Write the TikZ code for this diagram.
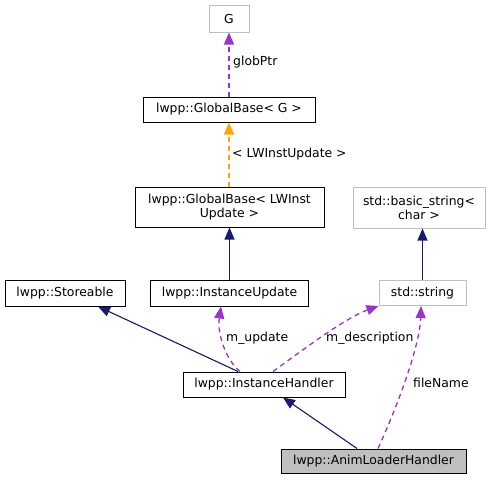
\documentclass[tikz,border=0pt]{standalone}
\usepackage{fontspec}
\setmainfont{DejaVu Sans}
\usetikzlibrary{arrows.meta}
\definecolor{edgenavy}{HTML}{191970}
\definecolor{edgepurple}{HTML}{9A32CD}
\definecolor{edgeorange}{HTML}{FFA500}
\definecolor{boxgray}{HTML}{BFBFBF}
\begin{document}
\begin{tikzpicture}[x=1pt,y=-1pt,
    every node/.style={font=\fontsize{12.4}{14}\selectfont,inner sep=0pt,align=center},
    blackbox/.style={draw=black,line width=1pt,fill=white},
    graybox/.style={draw=boxgray,line width=1pt,fill=white},
    lbl/.style={anchor=west}]
      \useasboundingbox (0,0) rectangle (496,480);
      \draw
        (229,18.5) node[graybox,minimum width=40,minimum height=27] (G){G}
        (229,109.5) node[blackbox,minimum width=172,minimum height=25] (gbG){lwpp::GlobalBase< G >}
        (229.5,207) node[blackbox,minimum width=189,minimum height=40] (gbLW){lwpp::GlobalBase< LWInst\\Update >}
        (419,207.5) node[graybox,minimum width=132,minimum height=41] (bstr){std::basic\_string<\\char >}
        (65,293) node[blackbox,minimum width=120,minimum height=26] (store){lwpp::Storeable}
        (229.5,293) node[blackbox,minimum width=158,minimum height=26] (iupd){lwpp::InstanceUpdate}
        (422.5,293) node[graybox,minimum width=87,minimum height=25] (str){std::string}
        (264,384.5) node[blackbox,minimum width=162,minimum height=25] (ihand){lwpp::InstanceHandler}
        (373.5,461) node[blackbox,fill=boxgray,minimum width=185,minimum height=24] (anim){lwpp::AnimLoaderHandler};
      % inheritance
      \begin{scope}[-{Triangle[length=12pt,width=10pt]},draw=edgenavy,fill=edgenavy,line width=1.1pt]
        \draw (iupd) to (gbLW);
        \draw (str) to (str |- bstr.south);
        \draw ([xshift=-26pt]ihand.north) to ([xshift=33pt]store.south);
        \draw ([xshift=-16.5pt]anim.north) to ([xshift=19pt]ihand.south);
      \end{scope}
      % usage
      \begin{scope}[-{Triangle[length=12pt,width=10pt]},draw=edgepurple,fill=edgepurple,line width=1.3pt,dash pattern=on 5pt off 4pt]
        \draw (gbG) to (G);
        \draw ([xshift=-24pt]ihand.north) .. controls (226,360) and (217,334) .. ([xshift=-8.5pt]iupd.south);
        \draw ([xshift=9pt]ihand.north) .. controls (300,352) and (345,318) .. (str.south west);
        \draw ([xshift=4.5pt]anim.north) .. controls (398,405) and (420,345) .. ([xshift=-1.5pt]str.south);
      \end{scope}
      \begin{scope}[-{Triangle[length=12pt,width=10pt]},draw=edgeorange,fill=edgeorange,line width=1.3pt,dash pattern=on 5pt off 4pt]
        \draw (gbLW.north -| gbG.south) to (gbG.south);
      \end{scope}
      \node[lbl] (lglob) at (233,62) {globPtr};
      \node[lbl] (ltmpl) at (232,154) {< LWInstUpdate >};
      \node[lbl] (lupd) at (226,338) {m\_update};
      \node[lbl] (ldesc) at (326,338) {m\_description};
      \node[lbl] (lfile) at (413,383) {fileName};
    \end{tikzpicture}
\end{document}
